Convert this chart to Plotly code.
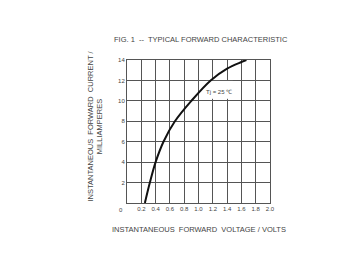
import plotly.graph_objects as go

voltage = [0.25, 0.32, 0.40, 0.51, 0.67, 0.90, 1.17, 1.40, 1.60, 1.67]
current = [0.0, 2.0, 4.0, 6.0, 8.0, 10.0, 12.0, 13.15, 13.8, 14.0]

x_ticks = [0.2, 0.4, 0.6, 0.8, 1.0, 1.2, 1.4, 1.6, 1.8, 2.0]
x_labels = ["0.2", "0.4", "0.6", "0.8", "1.0", "1.2", "1.4", "1.6", "1.8", "2.0"]
y_ticks = [2, 4, 6, 8, 10, 12, 14]
y_labels = ["2", "4", "6", "8", "10", "12", "14"]

title_text = "FIG. 1  --  TYPICAL FORWARD CHARACTERISTIC"
x_title = "INSTANTANEOUS  FORWARD  VOLTAGE / VOLTS"
y_title = "INSTANTANEOUS  FORWARD  CURRENT /<br>MILLIAMPERES"
note_text = "Tj = 25 ℃"
note_pos = (1.28, 10.9)
note_box = (1.1, 10.2, 1.48, 11.95)

FONT = "Liberation Sans, Arial, sans-serif"
TXT = "#444444"
GRID = "#555555"

fig = go.Figure()
fig.add_trace(go.Scatter(
    x=voltage, y=current, mode="lines",
    line=dict(color="#111111", width=2, shape="spline", smoothing=1.0),
    hoverinfo="skip", showlegend=False,
))

fig.update_layout(
    width=360, height=270,
    margin=dict(l=127, r=90, t=60, b=67),
    paper_bgcolor="white", plot_bgcolor="white",
    font=dict(family=FONT, color=TXT, size=6),
    showlegend=False,
)
fig.update_xaxes(
    range=[0, 2], tickvals=x_ticks, ticktext=x_labels,
    showgrid=True, gridcolor=GRID, gridwidth=1,
    showline=True, mirror=True, linecolor=GRID, linewidth=1,
    zeroline=False, ticks="", tickfont=dict(size=6, color=TXT),
)
fig.update_yaxes(
    range=[0, 14], tickvals=y_ticks, ticktext=y_labels,
    showgrid=True, gridcolor=GRID, gridwidth=1,
    showline=True, mirror=True, linecolor=GRID, linewidth=1,
    zeroline=False, ticks="", tickfont=dict(size=6, color=TXT),
)

# white background behind the Tj note (between grid and curve)
fig.add_shape(type="rect", x0=note_box[0], y0=note_box[1],
              x1=note_box[2], y1=note_box[3],
              fillcolor="white", line=dict(width=0), layer="between")

# origin label
fig.add_annotation(text="0", xref="paper", yref="paper", x=0, y=0,
                   xshift=-6, yshift=-7, showarrow=False,
                   xanchor="center", yanchor="middle",
                   font=dict(size=6, color=TXT))
# title
fig.add_annotation(text=title_text, xref="paper", yref="paper", x=0, y=1,
                   xshift=-15, yshift=21, showarrow=False,
                   xanchor="left", yanchor="middle",
                   font=dict(size=7.5, color=TXT))
# x axis title
fig.add_annotation(text=x_title, xref="paper", yref="paper", x=0.5, y=0,
                   yshift=-26, showarrow=False,
                   xanchor="center", yanchor="middle",
                   font=dict(size=7.5, color=TXT))
# y axis title
fig.add_annotation(text=y_title, xref="paper", yref="paper", x=0, y=0.5,
                   xshift=-32, yshift=5, showarrow=False, textangle=-90,
                   xanchor="center", yanchor="middle",
                   font=dict(size=7.5, color=TXT))
# Tj note
fig.add_annotation(text=note_text, x=note_pos[0], y=note_pos[1],
                   showarrow=False, xanchor="center", yanchor="middle",
                   font=dict(size=6, color=TXT))

fig.write_html("out.html")
